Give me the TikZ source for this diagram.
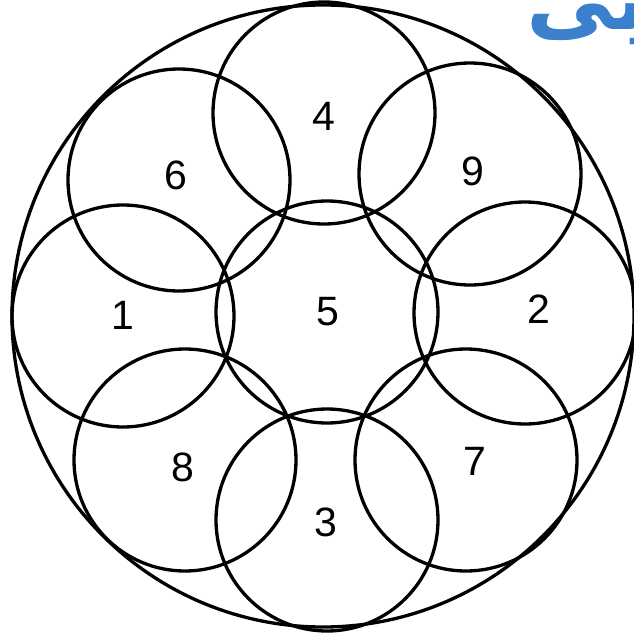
\documentclass[tikz,border=0pt]{standalone}
\usepackage{fontspec}
\setmainfont{Liberation Sans}
\newfontfamily\arabicfont[Script=Arabic]{DejaVu Sans}
\TeXXeTstate=1
\definecolor{markblue}{RGB}{58,128,204}

\begin{document}
\begin{tikzpicture}[x=1pt,y=-1pt,line width=3.3pt,
    digit/.style={font=\fontsize{41}{48}\selectfont,inner sep=0pt}]
  \useasboundingbox (0,0) rectangle (634,634);
  % outer ring
  \draw (323,316) circle (311pt);
  % middle circle and the eight round it
  \draw (327,312) circle (111pt);
  \draw (324,113) circle (111pt);
  \draw (470,174) circle (111pt);
  \draw (525,313) circle (111pt);
  \draw (466,460) circle (111pt);
  \draw (327,520) circle (111pt);
  \draw (185,460) circle (111pt);
  \draw (123,316) circle (111pt);
  \draw (179,180) circle (111pt);
  % numbers
  \node[digit] (n5) at (328,312) {5};
  \node[digit] (n4) at (324,116) {4};
  \node[digit] (n9) at (473,171) {9};
  \node[digit] (n2) at (539,309) {2};
  \node[digit] (n7) at (475,461) {7};
  \node[digit] (n3) at (326,522) {3};
  \node[digit] (n8) at (183,467) {8};
  \node[digit] (n1) at (122.5,315) {1};
  \node[digit] (n6) at (176,175) {6};
  % cut-off mark, top right
  \node[text=markblue,font=\arabicfont\bfseries\fontsize{88}{96}\selectfont,
    inner sep=0pt,anchor=base east] (mark) at (650,30) {\beginR بی\endR};
\end{tikzpicture}
\end{document}
